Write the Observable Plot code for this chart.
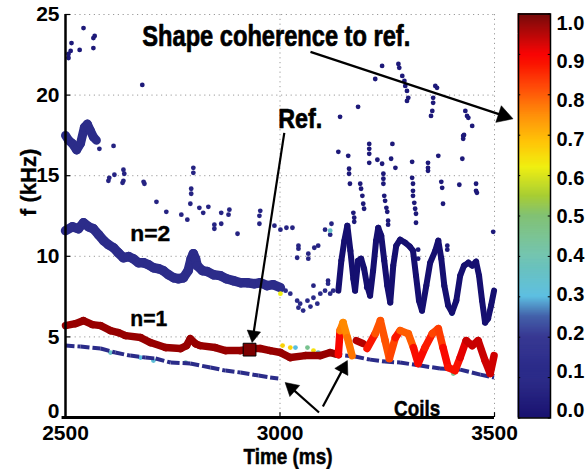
<!DOCTYPE html>
<html><head><meta charset="utf-8">
<script src="https://cdn.jsdelivr.net/npm/d3@7"></script>
<script src="https://cdn.jsdelivr.net/npm/@observablehq/plot@0.6"></script>
<style>
body{margin:0;background:#fff;}
#wrap{position:relative;width:586px;height:469px;overflow:hidden;background:#fff;}
#wrap svg{position:absolute;top:0;}
</style></head><body><div id="wrap"></div>
<script>
// ---------- data (time in ms, frequency in kHz, coherence 0..1) ----------
const n1T = [2500,2523,2542,2563,2582,2605,2623,2640,2675,2698,2733,2768,2782,2791,2803,2814,2849,2873,2908,2931,2954,2977,3001,3024,3059,3094,3117,3136,
  3140,3147,3157,3168, 3178,3194, 3203,3222,3234,3245,3255,3269,3280,3299,3311,3322,3338,3355,3369,3380,3392,3408,3420,3434,3448,3462,3478,3490,3499];
const n1F = [5.70,5.82,6.01,5.76,5.70,5.39,5.27,5.08,4.96,4.65,4.34,4.28,4.46,4.89,4.58,4.46,4.34,4.15,4.15,4.28,4.28,4.15,4.03,3.72,3.84,3.84,4.03,3.90,
  5.39,5.89,4.96,3.84, 4.77,4.58, 4.28,5.20,6.01,4.77,3.66,4.96,5.39,5.20,4.34,3.35,4.34,5.20,5.51,4.34,3.10,2.91,3.72,4.77,4.46,4.77,3.53,2.73,3.84];
const n1C = [0.97,0.97,0.97,0.97,0.97,0.97,0.97,0.97,0.97,0.97,0.97,0.97,0.97,0.97,0.97,0.97,0.97,0.97,0.97,0.97,0.97,0.97,0.97,0.97,0.97,0.97,0.97,0.97,
  0.82,0.70,0.80,0.74, 0.95,0.95, 0.90,0.85,0.76,0.85,0.76,0.88,0.87,0.72,0.87,0.90,0.88,0.86,0.78,0.88,0.90,0.86,0.90,0.93,0.94,0.93,0.94,0.92,0.94];
const n1Seg = [0,0,0,0,0,0,0,0,0,0,0,0,0,0,0,0,0,0,0,0,0,0,0,0,0,0,0,0, 0,0,0,0, 1,1, 2,2,2,2,2,2,2,2,2,2,2,2,2,2,2,2,2,2,2,2,2,2,2];

const n2T = [2500,2516,2530,2542,2554,2565,2577,2589,2600,2612,2623,2635,2647,2658,2670,2682,2693,2705,2717,2728,2740,2752,2763,2775,2786,2793,2798,2803,2807,2819,2831,2845,2861,2875,2891,2908,2924,2940,2954,2970,2984,3001];
const n2F = [11.59,11.83,11.71,12.08,11.83,11.71,11.34,10.97,10.72,10.53,10.22,9.91,9.98,9.85,9.60,9.60,9.48,9.29,9.23,9.11,8.86,8.67,8.61,8.67,9.11,9.85,10.16,9.85,9.42,9.11,9.05,8.86,8.80,8.61,8.49,8.36,8.36,8.30,8.36,8.18,8.24,8.05];
const n2C = 0.13;

const n2oT = [3136,3143,3150,3157,3164,3171,3175,3182,3189,3196,3203,3210,3217,3224,3229,3236,3243,3250,3257,3264,3271,3280,3292,3303,3310,3317,3324,3331,3341,3350,3362,3369,3376,3383,3392,3401,3411,3420,3429,3439,3448,3457,3464,3471,3478,3485,3492,3499];
const n2oF = [7.87,9.73,10.97,11.90,10.35,8.61,7.87,9.73,9.85,9.23,8.18,7.56,9.11,10.97,11.77,11.28,9.73,8.18,7.13,9.42,10.66,11.03,10.84,10.59,10.35,8.80,7.25,6.63,8.18,9.60,10.35,10.97,9.85,8.18,6.94,6.51,7.25,8.80,9.42,9.60,9.42,9.67,8.80,7.25,5.89,6.13,6.94,7.87];
const n2oC = 0.02;

const hiT = [2500,2507,2516,2526,2535,2544,2551,2558,2565,2572];
const hiF = [17.5,17.2,17.0,16.6,17.0,18.0,18.2,17.8,17.4,17.2];

const coilT = [2500,2535,2582,2616,2651,2686,2710,2745,2791,2838,2873,2908,2950,2977,2996, 3124,3152,3175,3210,3245,3280,3327,3373,3420,3467,3499];
const coilF = [4.46,4.40,4.28,4.03,3.84,3.72,3.66,3.41,3.35,3.10,2.91,2.79,2.60,2.48,2.42, 3.90,3.84,3.78,3.59,3.47,3.41,3.22,3.04,2.97,2.66,2.48];
const coilSeg = [0,0,0,0,0,0,0,0,0,0,0,0,0,0,0, 1,1,1,1,1,1,1,1,1,1,1];
const coilC = 0.12;

const scT = [2507,2507,2512,2514,2533,2542,2565,2565,2568,2679,
  3238,3222,3276,3278,3285,3290,3292,3296,3299,3296,3362,3366,3357,3357,3355,3352,3432,3436,3439,3448,3427,3427,3182,3140,3136,3159,3161,3161,3163,3187,3189,3192,
  3208,3208,3208,3208,3227,3238,3241,3241,3241,3243,3245,3248,3250,3252,3252,3262,3259,3269,3308,3308,3310,3310,3310,3313,3315,3317,3317,3322,3322,
  3345,3345,3345,3369,3376,3378,3380,3390,3390,3418,3425,3429,3457,3457,3459,3497,3171,3173,3173,3194,3196,
  2579,2612,2600,2602,2614,2635,2637,2633,2635,2682,2684,2712,2735,2770,2784,2793,2793,2791,2798,2798,2812,2821,2833,2847,2847,2863,2863,2882,2880,2901,
  2954,2952,2952,2987,3001,3015,3029,3105,3120,3117,3043,3043,3080,3089,3040,3066,3066,3112,3078,3201,
  3040,3043,3047,3054,3064,3071,3078,3087,3094,3105,3112,3117,3124,3024,3013,
  3117,3006,3001,3036,3064,3078,3089,3024,2605,2675,2705,2780,3392,3401,3404,3129];
const scF = [22.30,22.55,22.74,23.23,22.80,24.16,22.92,23.54,23.67,20.63,
  21.81,21.00,21.93,21.69,21.19,20.88,20.57,20.26,19.83,19.64,20.57,20.45,19.83,19.52,19.02,18.71,19.02,18.71,18.59,18.09,17.47,17.29,19.27,18.65,16.48,16.23,15.43,15.12,14.50,14.50,14.19,13.75,
  16.97,16.67,16.36,15.80,15.99,15.74,15.12,14.81,14.50,13.75,13.44,13.01,12.76,12.21,11.96,16.97,16.05,15.49,15.86,14.87,14.50,14.06,13.75,13.32,12.95,12.64,12.08,10.41,9.85,
  15.80,15.49,15.30,16.23,14.62,14.25,13.26,10.66,10.41,14.44,16.05,17.53,14.50,14.06,13.94,11.52,12.70,12.39,12.14,13.26,12.95,
  16.67,16.85,14.68,14.87,15.06,15.37,15.12,14.56,14.68,14.62,14.50,13.38,12.76,12.58,12.27,14.19,13.88,13.26,15.49,15.18,13.01,12.70,13.07,11.96,11.71,12.70,12.02,12.89,12.58,11.40,
  12.82,12.51,12.02,11.90,11.65,11.77,11.77,11.65,12.02,11.34,10.66,10.47,10.53,10.66,9.91,10.16,9.85,8.49,8.18,8.05,
  7.25,6.81,7.06,6.63,7.25,6.88,7.43,7.06,7.68,7.87,8.30,7.68,7.87,7.68,7.87,
  11.59,4.46,7.68,4.34,4.34,4.15,4.03,4.34,4.03,3.72,3.53,3.41,3.04,6.44,2.73,3.84];
const scC = [0.05,0.05,0.05,0.05,0.05,0.05,0.05,0.05,0.05,0.05,
  0.05,0.05,0.05,0.05,0.05,0.05,0.05,0.05,0.05,0.05,0.05,0.05,0.05,0.05,0.05,0.05,0.05,0.05,0.05,0.05,0.05,0.05,0.05,0.05,0.05,0.05,0.05,0.05,0.05,0.05,0.05,0.05,
  0.05,0.05,0.05,0.05,0.05,0.05,0.05,0.05,0.05,0.05,0.05,0.05,0.05,0.05,0.05,0.05,0.05,0.05,0.05,0.05,0.05,0.05,0.05,0.05,0.05,0.05,0.05,0.05,0.05,
  0.05,0.05,0.05,0.05,0.05,0.05,0.05,0.05,0.05,0.05,0.05,0.05,0.05,0.05,0.05,0.05,0.05,0.05,0.05,0.05,0.05,
  0.08,0.08,0.08,0.08,0.08,0.08,0.08,0.08,0.08,0.08,0.08,0.08,0.08,0.08,0.08,0.08,0.08,0.08,0.08,0.08,0.08,0.08,0.08,0.08,0.08,0.08,0.08,0.08,0.08,0.08,
  0.08,0.08,0.08,0.08,0.08,0.08,0.08,0.08,0.08,0.08,0.08,0.08,0.08,0.08,0.08,0.08,0.08,0.08,0.08,0.08,
  0.1,0.1,0.1,0.1,0.1,0.1,0.1,0.1,0.1,0.1,0.1,0.1,0.1,0.1,0.1,
  0.35,0.66,0.62,0.30,0.45,0.64,0.35,0.66,0.35,0.30,0.32,0.40,0.30,0.30,0.45,0.35];

const refT = [2929], refF = [4.21], refC = [0.99];

const xTicks = [2500,3000,3500];
const yTicks = [0,5,10,15,20,25];
const cbTicks = [0,0.1,0.2,0.3,0.4,0.5,0.6,0.7,0.8,0.9,1.0];

const labelText = ["Shape coherence to ref.","Ref.","n=2","n=1","Coils"];
const labelT = [2679,2996,2651,2651,3266];
const labelF = [23.05,17.97,10.97,5.70,0.12];

const arrowT1 = [3071,3010,3091,3100];
const arrowF1 = [22.68,17.66,0.31,0.68];
const arrowT2 = [3543,2935,3012,3157];
const arrowF2 = [18.53,4.65,2.17,3.53];

// ---------- colour map ----------
const cStops  = [0,0.1,0.2,0.25,0.3,0.4,0.5,0.55,0.62,0.68,0.75,0.82,0.9,1];
const cColors = ["#10086a","#2a2a88","#31328f","#3c5aa6","#58bde0","#72c4b0","#7dbf6e","#a6cc2c","#f0ef12","#ffc400","#ff8a00","#ff4400","#f80000","#6e0000"];
const colorOpt = {type:"linear", domain:cStops, range:cColors, interpolate:"rgb", clamp:true};

// ---------- helpers ----------
function pairs(T,F,C,S){
  const out=[];
  for(let i=0;i<T.length-1;i++){
    if(S && S[i]!==S[i+1]) continue;
    const c0 = Array.isArray(C)?C[i]:C, c1 = Array.isArray(C)?C[i+1]:C;
    out.push({x1:T[i],y1:F[i],x2:T[i+1],y2:F[i+1],c:(c0+c1)/2});
  }
  return out;
}
const pts = (T,F,C) => T.map((t,i)=>({t, f:F[i], c:Array.isArray(C)?C[i]:C}));

const W=586,H=469, mL=65, mR=92, mT=14, mB=52;
const xS = Plot.scale({x:{domain:[2500,3500], range:[mL, W-mR]}});
const yS = Plot.scale({y:{domain:[0,25], range:[H-mB, mT]}});

const headR = [6.5,5,5.5,5.5];
const arrows = arrowT1.map((_,i)=>{
  const px1=xS.apply(arrowT1[i]), py1=yS.apply(arrowF1[i]);
  const px2=xS.apply(arrowT2[i]), py2=yS.apply(arrowF2[i]);
  const dx=px2-px1, dy=py2-py1, L=Math.hypot(dx,dy), ux=dx/L, uy=dy/L;
  const r=headR[i];
  const cx=px2-ux*1.55*r, cy=py2-uy*1.55*r;
  return {x1:arrowT1[i], y1:arrowF1[i], x2:xS.invert(cx), y2:yS.invert(cy), hx:xS.invert(cx), hy:yS.invert(cy), r, rot:Math.atan2(ux,-uy)*180/Math.PI};
});

const font = "'Liberation Sans',Arial,Helvetica,sans-serif";
const grid = {stroke:"#9a9a9a", strokeDasharray:"1.2,3.6", strokeWidth:1};
const fmt = d => String(d);
const heavy = {fontWeight:"bold", fontFamily:font, fill:"black", stroke:"black", strokeWidth:0.7};

const marks = [
  Plot.ruleY([5,10,15,20,25], grid),
  Plot.ruleX([3000,3500], grid),
  // 17 kHz band
  Plot.link(pairs(hiT,hiF,0.12), {x1:"x1",y1:"y1",x2:"x2",y2:"y2",stroke:"c",strokeWidth:9,strokeLinecap:"round"}),
  // n=2 left band
  Plot.link(pairs(n2T,n2F,n2C), {x1:"x1",y1:"y1",x2:"x2",y2:"y2",stroke:"c",strokeWidth:9.5,strokeLinecap:"round"}),
  // scattered points
  Plot.dot(pts(scT,scF,scC), {x:"t",y:"f",fill:"c",r:2.4}),
  // coils
  Plot.link(pairs(coilT,coilF,coilC,coilSeg), {x1:"x1",y1:"y1",x2:"x2",y2:"y2",stroke:"c",strokeWidth:4,strokeDasharray:"9,3"}),
  // n=2 oscillation
  Plot.link(pairs(n2oT,n2oF,n2oC), {x1:"x1",y1:"y1",x2:"x2",y2:"y2",stroke:"c",strokeWidth:6,strokeLinecap:"round"}),
  // n=1
  Plot.link(pairs(n1T,n1F,n1C,n1Seg), {x1:"x1",y1:"y1",x2:"x2",y2:"y2",stroke:"c",strokeWidth:7.5,strokeLinecap:"round"}),
  // reference marker
  Plot.dot(pts(refT,refF,refC), {x:"t",y:"f",fill:"c",stroke:"black",strokeWidth:1,symbol:"square",r:7.2}),
  // axes
  Plot.ruleX([2500], {y1:0, y2:25, strokeWidth:2.5}),
  Plot.ruleY([0], {x1:2492, x2:3500, strokeWidth:3}),
  Plot.ruleY(yTicks, {x1:2500, x2:2512, strokeWidth:1.2}),
  Plot.ruleX(xTicks.slice(1), {y1:0, y2:0.3, strokeWidth:1.2}),
  Plot.axisX(xTicks, {tickSize:0, tickPadding:8, tickFormat:fmt, label:null, fontSize:21, fontWeight:"bold", fontFamily:font}),
  Plot.axisY(yTicks.slice(1), {tickSize:0, tickPadding:6, tickFormat:fmt, label:null, fontSize:21, fontWeight:"bold", fontFamily:font}),
  Plot.axisY(yTicks.slice(0,1), {tickSize:0, tickPadding:6, dy:-6, tickFormat:fmt, label:null, fontSize:21, fontWeight:"bold", fontFamily:font}),
  Plot.text(["f (kHz)"], {frameAnchor:"left", dx:-37, rotate:-90, fontSize:22, ...heavy, strokeWidth:0.3}),
  Plot.text(["Time (ms)"], {frameAnchor:"bottom", dx:8, dy:46, lineAnchor:"bottom", fontSize:22, ...heavy, strokeWidth:0.5}),
  // annotations
  Plot.text([0], {x:labelT[0], y:labelF[0], text:()=>labelText[0], textAnchor:"start", lineAnchor:"bottom", fontSize:29, ...heavy}),
  Plot.text([0], {x:labelT[1], y:labelF[1], text:()=>labelText[1], textAnchor:"start", lineAnchor:"bottom", fontSize:28, ...heavy}),
  Plot.text([2,3], {x:i=>labelT[i], y:i=>labelF[i], text:i=>labelText[i], textAnchor:"start", lineAnchor:"bottom", fontSize:22, ...heavy, strokeWidth:0.4}),
  Plot.text([0], {x:labelT[4], y:labelF[4], text:()=>labelText[4], textAnchor:"start", lineAnchor:"bottom", fontSize:22, ...heavy, strokeWidth:0.5}),
  Plot.link(arrows, {x1:"x1",y1:"y1",x2:"x2",y2:"y2",stroke:"black",strokeWidth:2.2}),
  ...arrows.map(a => Plot.dot([a], {x:"hx", y:"hy", symbol:"triangle", r:a.r, rotate:a.rot, fill:"black", stroke:"black", strokeWidth:0.5}))
];

const chart = Plot.plot({
  width:W, height:H, marginLeft:mL, marginRight:mR, marginTop:mT, marginBottom:mB,
  x:{domain:[2500,3500]}, y:{domain:[0,25]},
  color:colorOpt,
  style:{background:"transparent", overflow:"visible", fontFamily:font, fontWeight:"bold", fontSize:"21px", color:"black"},
  marks
});
// condensed lettering, as in the reference (Helvetica Narrow look)
const fit = {"Shape coherence to ref.":268, "Ref.":44, "Coils":46, "Time (ms)":89, "n=2":40, "n=1":37};
chart.querySelectorAll("text").forEach(t => {
  const w = fit[t.textContent];
  if (w) { t.setAttribute("textLength", w); t.setAttribute("lengthAdjust", "spacingAndGlyphs"); }
});
document.getElementById("wrap").appendChild(chart);

// ---------- colour bar ----------
const cbStep = 0.0025;
const cbCells = d3.range(0, 1, cbStep).map(v => ({v}));
const cb = Plot.plot({
  width:86, height:H, marginLeft:18, marginRight:36, marginTop:13.5, marginBottom:51.5,
  x:{domain:[0,1], axis:null}, y:{domain:[0,1], axis:null},
  color:colorOpt,
  style:{background:"transparent", overflow:"visible", fontFamily:font, fontWeight:"bold", fontSize:"20px", color:"black"},
  marks:[
    Plot.rect(cbCells, {x1:0, x2:1, y1:"v", y2:d=>d.v+cbStep, fill:"v", stroke:"v", strokeWidth:0.6}),
    Plot.ruleY(cbTicks, {x1:0, x2:0.07, strokeWidth:1}),
    Plot.ruleY(cbTicks, {x1:0.93, x2:1, strokeWidth:1}),
    Plot.frame({stroke:"black", strokeWidth:1.5}),
    Plot.text(cbTicks, {x:1, y:d=>0.018+0.959*d, text:d=>d.toFixed(1), textAnchor:"start", dx:6, fontSize:20, fontWeight:"bold", fontFamily:font})
  ]
});
cb.style.left = "500px";
document.getElementById("wrap").appendChild(cb);
</script>
</body></html>
